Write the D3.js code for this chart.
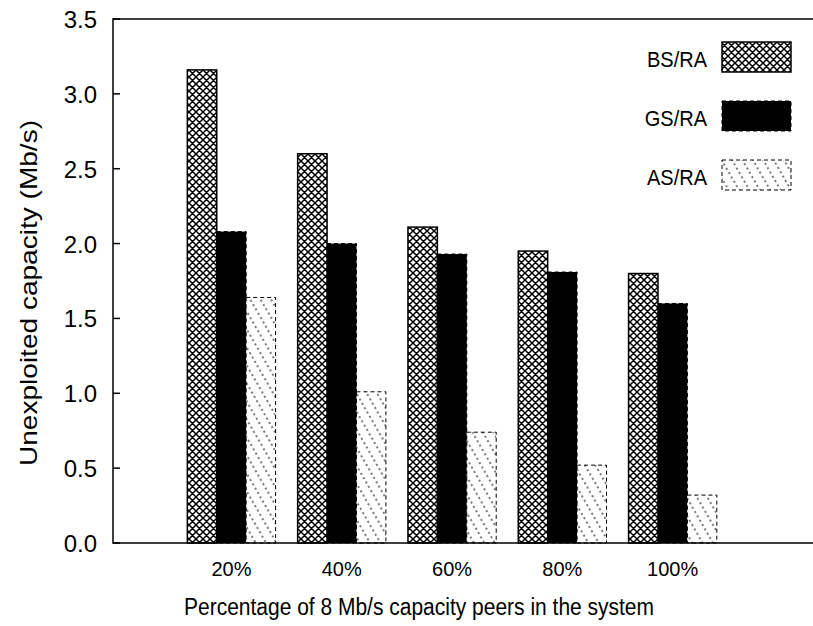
<!DOCTYPE html>
<html>
<head>
<meta charset="utf-8">
<script src="https://d3js.org/d3.v7.min.js"></script>
<style>
  body { margin: 0; background: #fff; }
  svg { display: block; font-family: "Liberation Sans", Arial, Helvetica, sans-serif; }
</style>
</head>
<body>
<svg id="chart" width="813" height="626"></svg>
<script>
const categories = ['20%', '40%', '60%', '80%', '100%'];
const seriesNames = ['BS/RA', 'GS/RA', 'AS/RA'];
const bsValues = [3.16, 2.60, 2.11, 1.95, 1.80];
const gsValues = [2.08, 2.00, 1.93, 1.81, 1.60];
const asValues = [1.64, 1.01, 0.74, 0.52, 0.32];
const yTicks = [0, 0.5, 1.0, 1.5, 2.0, 2.5, 3.0, 3.5];

const w = 813;
const h = 626;
const margin = { top: 19, right: 0, bottom: 83, left: 113 };

const svg = d3.select('#chart');
const defs = svg.append('defs');

// crosshatch fill for BS/RA
const cross = defs.append('pattern')
  .attr('id', 'cross')
  .attr('patternUnits', 'userSpaceOnUse')
  .attr('width', 7)
  .attr('height', 7);
cross.append('rect').attr('width', 7).attr('height', 7).attr('fill', '#fff');
cross.append('path')
  .attr('d', 'M0,0L7,7M7,0L0,7M-1,6L1,8M6,-1L8,1')
  .attr('stroke', '#000')
  .attr('stroke-width', 1.5);

// sparse dotted diagonals for AS/RA
const sparse = defs.append('pattern')
  .attr('id', 'sparse')
  .attr('patternUnits', 'userSpaceOnUse')
  .attr('width', 9)
  .attr('height', 40)
  .attr('patternTransform', 'rotate(-30)');
sparse.append('rect').attr('width', 9).attr('height', 40).attr('fill', '#fff');
sparse.append('line')
  .attr('x1', 4).attr('y1', 0).attr('x2', 4).attr('y2', 40)
  .attr('stroke', '#222')
  .attr('stroke-width', 1.2)
  .attr('stroke-dasharray', '2,3');

const styles = [
  { fill: 'url(#cross)', dash: null },
  { fill: '#000', dash: '4,3' },
  { fill: 'url(#sparse)', dash: '4,3' }
];

const x = d3.scaleLinear()
  .domain([-1.074, 5.272])
  .range([margin.left, w - margin.right]);

const y = d3.scaleLinear()
  .domain([0, 3.5])
  .range([h - margin.bottom, margin.top]);

const barW = x(0.2667) - x(0);

const data = [];
categories.forEach((c, i) => {
  [bsValues, gsValues, asValues].forEach((vals, j) => {
    data.push({ cat: c, i, j, value: vals[i] });
  });
});

// bars
svg.append('g')
  .selectAll('rect')
  .data(data)
  .enter()
  .append('rect')
    .attr('x', (d) => x(d.i) - 1.5 * barW + d.j * barW)
    .attr('y', (d) => y(d.value))
    .attr('width', barW)
    .attr('height', (d) => y(0) - y(d.value))
    .attr('fill', (d) => styles[d.j].fill)
    .attr('stroke', '#000')
    .attr('stroke-width', (d) => d.j === 0 ? 1.5 : 1)
    .attr('stroke-dasharray', (d) => styles[d.j].dash);

// frame: left axis, top and bottom lines
const frame = svg.append('g')
  .attr('stroke', '#000')
  .attr('stroke-width', 1.5)
  .attr('fill', 'none');
frame.append('path')
  .attr('d', `M${w},${y(3.5)}H${x.range()[0]}V${y(0)}H${w}`);

// y ticks and labels
const yAxis = svg.append('g');
yAxis.selectAll('line')
  .data(yTicks)
  .enter()
  .append('line')
    .attr('x1', margin.left)
    .attr('x2', margin.left + 7)
    .attr('y1', (d) => y(d))
    .attr('y2', (d) => y(d))
    .attr('stroke', '#000')
    .attr('stroke-width', 1.5);
yAxis.selectAll('text')
  .data(yTicks)
  .enter()
  .append('text')
    .attr('x', 97)
    .attr('y', (d) => y(d) + 9)
    .attr('text-anchor', 'end')
    .attr('font-size', 24)
    .text((d) => d.toFixed(1));

// x tick labels
svg.append('g')
  .selectAll('text')
  .data(categories)
  .enter()
  .append('text')
    .attr('x', (d, i) => x(i))
    .attr('y', 576)
    .attr('text-anchor', 'middle')
    .attr('font-size', 20)
    .text((d) => d);

// axis titles (lettering stretched vertically)
svg.append('text')
  .attr('transform', 'translate(419, 615) scale(1, 1.14)')
  .attr('text-anchor', 'middle')
  .attr('font-size', 21)
  .text('Percentage of 8 Mb/s capacity peers in the system');

svg.append('text')
  .attr('transform', 'translate(37, 293) rotate(-90) scale(1.22, 1)')
  .attr('text-anchor', 'middle')
  .attr('font-size', 23)
  .text('Unexploited capacity (Mb/s)');

// legend
const legend = svg.append('g')
  .selectAll('g')
  .data(seriesNames)
  .enter()
  .append('g')
    .attr('transform', (d, j) => `translate(0, ${42 + j * 59})`);
legend.append('text')
  .attr('transform', 'translate(707, 25) scale(1, 1.08)')
  .attr('text-anchor', 'end')
  .attr('font-size', 20)
  .text((d) => d);
legend.append('rect')
  .attr('x', 722)
  .attr('y', 0)
  .attr('width', 69)
  .attr('height', 30)
  .attr('fill', (d, j) => styles[j].fill)
  .attr('stroke', '#000')
  .attr('stroke-width', (d, j) => j === 0 ? 1.5 : 1)
  .attr('stroke-dasharray', (d, j) => styles[j].dash);
</script>
</body>
</html>
